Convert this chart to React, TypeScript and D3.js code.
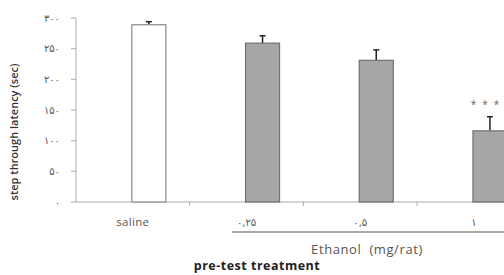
import React from "react";
import * as d3 from "d3";

const categories = ["saline", "0.25", "0.5", "1"];
const categoryLabels = ["saline", "۰,۲۵", "۰,۵", "۱"];
const means = [289, 259, 231, 116];
const errors = [5, 12, 17, 23];
const fills = ["#ffffff", "#a6a6a6", "#a6a6a6", "#a6a6a6"];
const yTicks = [0, 50, 100, 150, 200, 250, 300];
const yTickLabels = ["۰", "۵۰", "۱۰۰", "۱۵۰", "۲۰۰", "۲۵۰", "۳۰۰"];
const significance = ["", "", "", "***"];

export default function App() {
  const W = 504, H = 275;
  const x0 = 76, y0 = 202, yTop = 18;
  const x = d3.scaleBand<string>().domain(categories).range([x0, x0 + 4 * 113.7]).padding(0);
  const y = d3.scaleLinear().domain([0, 300]).range([y0, yTop]);
  const barW = 34;
  const offset = 16;
  const font = "'Open Sans', 'DejaVu Sans', sans-serif";
  const pfont = "'DejaVu Sans', sans-serif";
  return (
    <svg width={W} height={H} style={{ position: "absolute", left: 0, top: 0 }}>
      <rect width={W} height={H} fill="#fff" />
      {/* y axis */}
      <line x1={x0} x2={x0} y1={yTop} y2={y0} stroke="#aaa" strokeWidth={1} />
      {yTicks.map((t, i) => (
        <g key={t}>
          <line x1={x0 - 5} x2={x0} y1={y(t)} y2={y(t)} stroke="#aaa" />
          <text x={60} y={y(t)} dy="0.35em" textAnchor="end" fontSize={10} letterSpacing={2} fill="#555" fontFamily={pfont}>
            {yTickLabels[i]}
          </text>
        </g>
      ))}
      {/* x axis */}
      <line x1={x0} x2={W} y1={y0} y2={y0} stroke="#aaa" />
      {categories.slice(1).map((c) => (
        <line key={c} x1={x(c)!} x2={x(c)!} y1={y0} y2={y0 + 4} stroke="#aaa" />
      ))}
      {/* bars */}
      {categories.map((c, i) => {
        const cx = x(c)! + x.bandwidth() / 2 + offset;
        return (
          <g key={c}>
            <line x1={cx} x2={cx} y1={y(means[i])} y2={y(means[i] + errors[i])} stroke="#222" strokeWidth={1.5} />
            <line x1={cx - 3} x2={cx + 3} y1={y(means[i] + errors[i])} y2={y(means[i] + errors[i])} stroke="#222" strokeWidth={1.5} />
            <rect x={cx - barW / 2} y={y(means[i])} width={barW} height={y0 - y(means[i])} fill={fills[i]} stroke={i === 0 ? "#888" : "#707070"} strokeWidth={1.2} />
            {significance[i] && (
              <text x={cx - 2} y={108} textAnchor="middle" fontSize={10} letterSpacing={6} fill="#666" fontFamily={font}>
                {significance[i]}
              </text>
            )}
            <text x={x(c)! + x.bandwidth() / 2} y={222} dy="0.35em" textAnchor="middle" fontSize={i === 0 ? 11.5 : 10} letterSpacing={i === 0 ? 0.3 : 2} fill="#555" fontFamily={i === 0 ? font : pfont}>
              {categoryLabels[i]}
            </text>
          </g>
        );
      })}
      {/* ethanol bracket */}
      <line x1={232} x2={W} y1={232} y2={232} stroke="#555" strokeWidth={1} />
      <text x={367} y={249} dy="0.35em" textAnchor="middle" fontSize={13} letterSpacing={0.6} fill="#555" fontFamily={font}>
        {"Ethanol\u00a0\u00a0(mg/rat)"}
      </text>
      <text x={257} y={266} dy="0.35em" textAnchor="middle" fontSize={12.5} letterSpacing={0.5} fontWeight="bold" fill="#222" fontFamily={font}>
        pre-test treatment
      </text>
      <text transform={`translate(14,${132}) rotate(-90)`} textAnchor="middle" dy="0.35em" fontSize={11} fontWeight={600} fill="#333" fontFamily={font}>
        step through latency (sec)
      </text>
    </svg>
  );
}
